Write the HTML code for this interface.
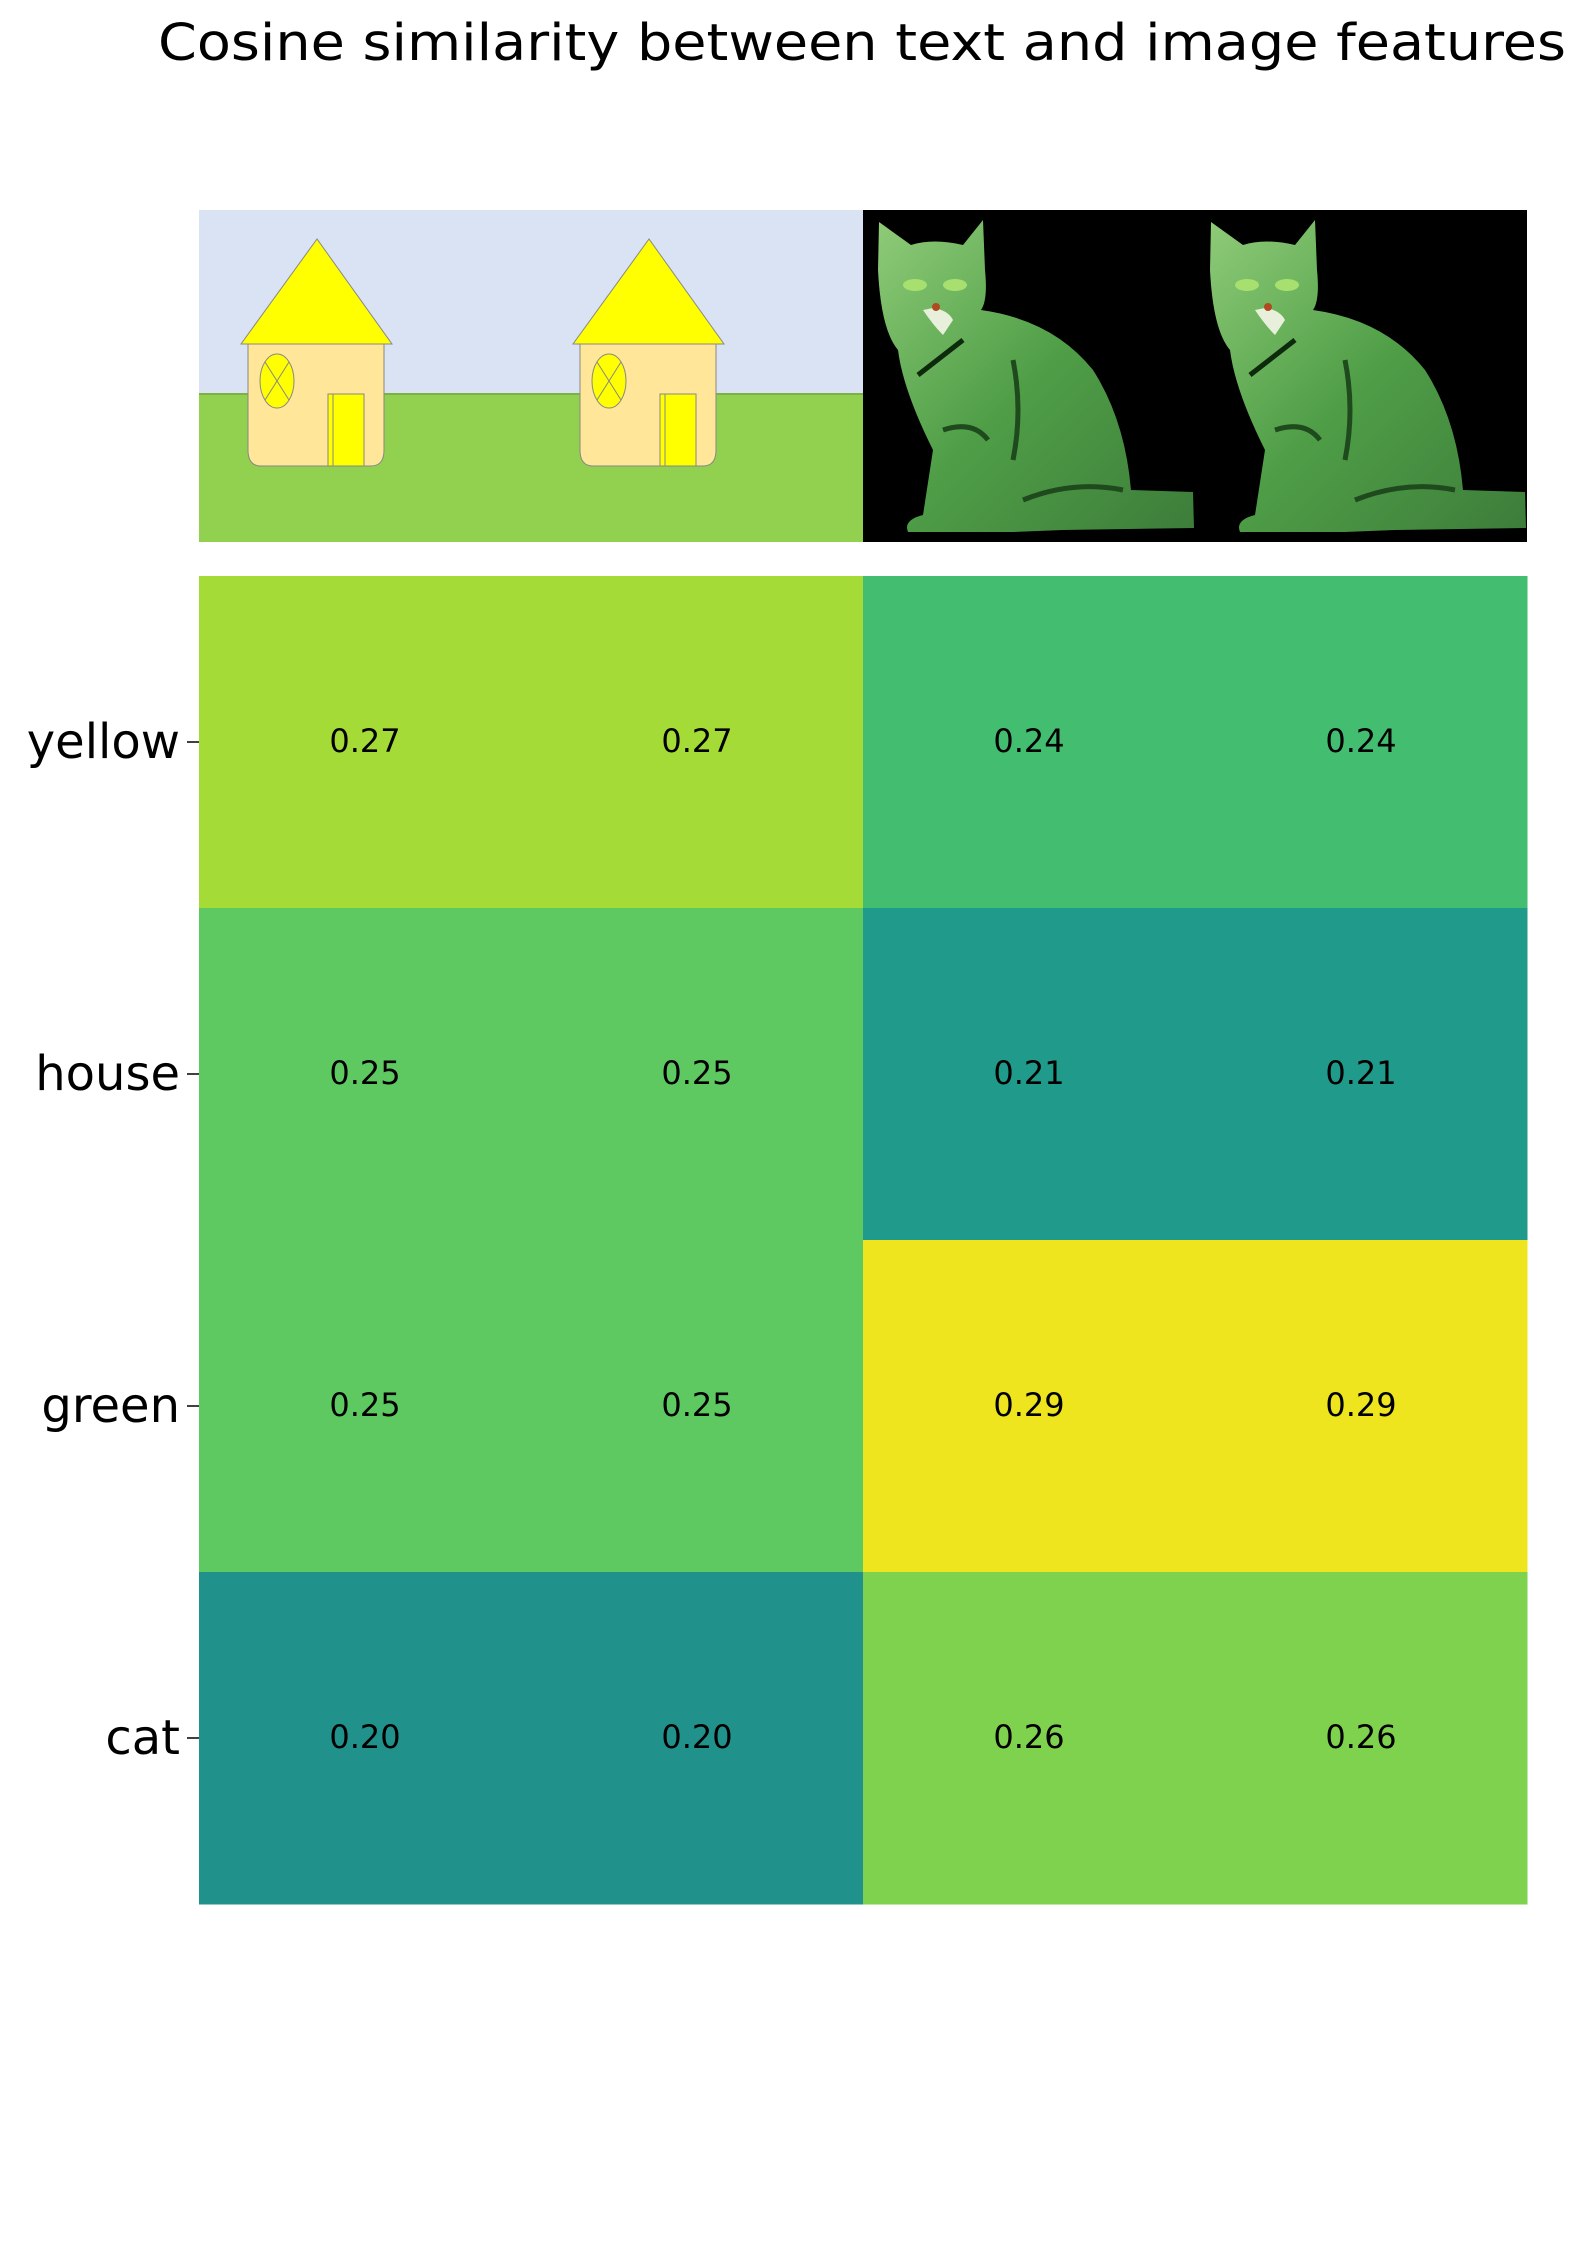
<!DOCTYPE html>
<html><head><meta charset="utf-8"><style>
html,body{margin:0;padding:0;background:#fff;}
svg{display:block;font-family:"DejaVu Sans","Liberation Sans",sans-serif;}
</style></head><body>
<svg id="chart" width="1585" height="2254" viewBox="0 0 1585 2254" xmlns="http://www.w3.org/2000/svg">
<text x="862" y="60" font-size="51" text-anchor="middle" textLength="1408" lengthAdjust="spacingAndGlyphs">Cosine similarity between text and image features</text>
<defs>
<g id="house">
<rect x="0" y="0" width="332" height="184" fill="#dae3f3"/>
<rect x="0" y="184" width="332" height="148" fill="#92d050"/>
<line x1="0" y1="184" x2="332" y2="184" stroke="#7fb045" stroke-width="2"/>
<path d="M49,134 H185 V240 Q185,256 172,256 H62 Q49,256 49,240 Z" fill="#ffe699" stroke="#888" stroke-width="1"/>
<polygon points="118,29 42,134 193,134" fill="#ffff00" stroke="#888" stroke-width="1"/>
<ellipse cx="78" cy="171" rx="17" ry="27" fill="#ffff00" stroke="#888" stroke-width="1"/>
<line x1="66" y1="152" x2="90" y2="190" stroke="#888" stroke-width="1"/>
<line x1="90" y1="152" x2="66" y2="190" stroke="#888" stroke-width="1"/>
<rect x="129" y="184" width="36" height="72" fill="#ffff00" stroke="#888" stroke-width="1"/>
<line x1="134" y1="184" x2="134" y2="256" stroke="#888" stroke-width="1"/>
</g>
<linearGradient id="catg" x1="0" y1="0" x2="1" y2="1">
<stop offset="0" stop-color="#8fcb78"/><stop offset="0.5" stop-color="#4f9e47"/><stop offset="1" stop-color="#3d7d3a"/>
</linearGradient>
<g id="cat">
<rect x="0" y="0" width="332" height="332" fill="#000"/>
<path d="M15,60 L16,12 L48,35 Q70,28 100,35 L120,10 L122,60 Q125,90 118,100 Q190,110 230,160 Q262,210 268,280 L330,282 L331,318 L200,320 L150,322 L45,322 Q40,310 60,305 L70,240 Q40,180 35,140 Q18,120 15,60 Z" fill="url(#catg)"/>
<path d="M60,100 Q70,115 80,125 L90,110 Q85,100 70,98 Z" fill="#e8f0dc"/>
<path d="M55,165 L100,130" stroke="#0d2a0d" stroke-width="5" fill="none"/>
<path d="M80,220 Q110,210 125,230 M160,290 Q210,270 260,280 M150,150 Q160,200 150,250" stroke="#1e4a1e" stroke-width="5" fill="none"/>
<ellipse cx="52" cy="75" rx="12" ry="6" fill="#a8e070"/>
<ellipse cx="92" cy="75" rx="12" ry="6" fill="#a8e070"/>
<circle cx="73" cy="97" r="4" fill="#b04a20"/>
</g>
</defs>
<g>
<use href="#house" x="199" y="210"/>
<use href="#house" x="531" y="210"/>
<use href="#cat" x="863" y="210"/>
<use href="#cat" x="1195" y="210"/>
</g>
<g id="heatmap"></g>
<g id="yaxis"></g>
</svg>
<script>
const rowLabels = ["yellow","house","green","cat"];
const row0 = [0.27,0.27,0.24,0.24];
const row1 = [0.25,0.25,0.21,0.21];
const row2 = [0.25,0.25,0.29,0.29];
const row3 = [0.20,0.20,0.26,0.26];
const values = [row0,row1,row2,row3];
const NS="http://www.w3.org/2000/svg";
const X0=199, Y0=576, CW=332, CH=332;
function xPos(c){return X0+c*CW;}
function yPos(r){return Y0+r*CH;}
const vir=[[0.5,"#21918c"],[0.55,"#1fa088"],[0.6,"#22a884"],[0.65,"#2fb47c"],[0.7,"#44bf70"],[0.75,"#5ec962"],[0.8,"#7ad151"],[0.85,"#9bd93c"],[0.9,"#bddf26"],[0.95,"#dfe318"],[1,"#fde725"]];
function hex(h){return [1,3,5].map(i=>parseInt(h.substr(i,2),16));}
function color(v){
  let t=0.53+(v-0.21)*5.56; t=Math.max(0.5,Math.min(1,t));
  for(let i=1;i<vir.length;i++){ if(t<=vir[i][0]){const a=vir[i-1],b=vir[i];const f=(t-a[0])/(b[0]-a[0]);
    const ca=hex(a[1]),cb=hex(b[1]);
    const c=ca.map((x,k)=>Math.round(x+(cb[k]-x)*f));return `rgb(${c[0]},${c[1]},${c[2]})`;}}
  return "#fde725";
}
const hm=document.getElementById('heatmap');
const ya=document.getElementById('yaxis');
values.forEach((row,r)=>{
  row.forEach((v,c)=>{
    const rect=document.createElementNS(NS,'rect');
    
    
    rect.setAttribute('x',xPos(c));rect.setAttribute('y',yPos(r));
    rect.setAttribute('width',CW+0.5);rect.setAttribute('height',CH+0.5);
    rect.setAttribute('fill',color(v));
    hm.appendChild(rect);
    const t=document.createElementNS(NS,'text');
    
    
    t.setAttribute('x',xPos(c)+CW/2);t.setAttribute('y',yPos(r)+CH/2+10);
    t.setAttribute('font-size','32');t.setAttribute('text-anchor','middle');
    t.textContent=v.toFixed(2);
    hm.appendChild(t);
  });
  const tk=document.createElementNS(NS,'line');
  
  
  tk.setAttribute('x1',X0-12);tk.setAttribute('x2',X0);
  tk.setAttribute('y1',yPos(r)+CH/2);tk.setAttribute('y2',yPos(r)+CH/2);
  tk.setAttribute('stroke','#000');tk.setAttribute('stroke-width','1.5');
  ya.appendChild(tk);
  const lb=document.createElementNS(NS,'text');
  
  
  lb.setAttribute('x',X0-19);lb.setAttribute('y',yPos(r)+CH/2+16);
  lb.setAttribute('font-size','48');lb.setAttribute('text-anchor','end');
  lb.textContent=rowLabels[r];
  ya.appendChild(lb);
});
</script>
</body></html>
